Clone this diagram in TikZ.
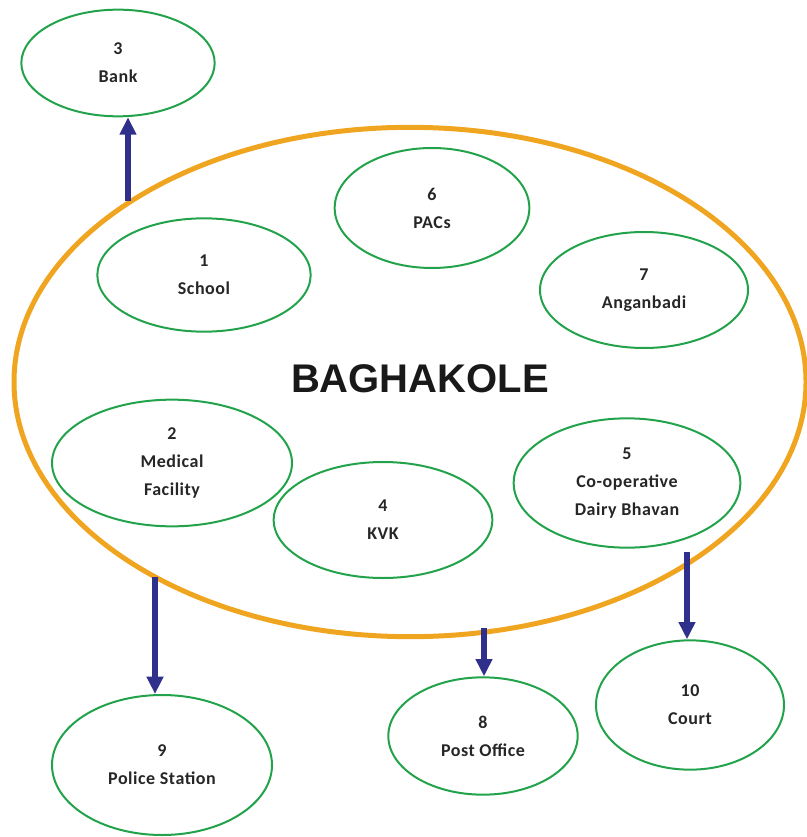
\documentclass[tikz,border=0pt]{standalone}
\usepackage{fontspec}
\setmainfont{Carlito}[LetterSpace=3]
\newfontfamily\headfont{Liberation Sans}
\usetikzlibrary{shapes.geometric,arrows.meta}
\definecolor{ringorange}{RGB}{240,165,32}
\definecolor{unitgreen}{RGB}{34,163,75}
\definecolor{linknavy}{RGB}{46,48,140}
\begin{document}
\begin{tikzpicture}[x=0.75pt,y=-0.75pt,
    unit/.style={ellipse,draw=unitgreen,line width=1.5pt,inner sep=0pt,
      align=center,text=black!85,font=\bfseries\fontsize{13.5}{21}\selectfont},
    link/.style={draw=linknavy,line width=4.5pt,
      -{Triangle[width=12pt,length=13pt]}}]
  \useasboundingbox (0,0) rectangle (806,837);
  % the village ring
  \node[ellipse,draw=ringorange,line width=3.75pt,minimum width=594pt,
        minimum height=382pt,inner sep=0pt] (village) at (410,382) {};
  \node[font=\headfont\bfseries\fontsize{30}{31}\selectfont,text=black!90] (name) at (420,379) {BAGHAKOLE};
  % units inside
  \node[unit,minimum width=146pt,minimum height=90pt] (pacs) at (432,208) {6\\PACs};
  \node[unit,minimum width=160pt,minimum height=85pt] (school) at (204,275) {1\\School};
  \node[unit,minimum width=156pt,minimum height=87pt] (anganbadi) at (644,290) {7\\Anganbadi};
  \node[unit,minimum width=180pt,minimum height=95pt] (medical) at (172,463) {2\\Medical\\Facility};
  \node[unit,minimum width=170pt,minimum height=97pt] (dairy) at (627,483) {5\\Co-operative\\Dairy Bhavan};
  \node[unit,minimum width=164pt,minimum height=87pt] (kvk) at (383,520) {4\\KVK};
  % units outside
  \node[unit,minimum width=145pt,minimum height=80pt] (bank) at (118,63) {3\\Bank};
  \node[unit,minimum width=165pt,minimum height=105pt] (police) at (162,765) {9\\Police Station};
  \node[unit,minimum width=142pt,minimum height=88pt] (post) at (483,736) {8\\Post Office};
  \node[unit,minimum width=141pt,minimum height=97pt] (court) at (690,705) {10\\Court};
  % links
  \coordinate (l1) at (128,201);
  \coordinate (l2) at (155,577);
  \coordinate (l3) at (484,628);
  \coordinate (l4) at (687,552);
  \draw[link] (l1) -- (l1 |- bank.south);
  \draw[link] (l2) -- (l2 |- police.north);
  \draw[link] (l3) -- (l3 |- post.north);
  \draw[link] (l4) -- (l4 |- court.north);
\end{tikzpicture}
\end{document}
